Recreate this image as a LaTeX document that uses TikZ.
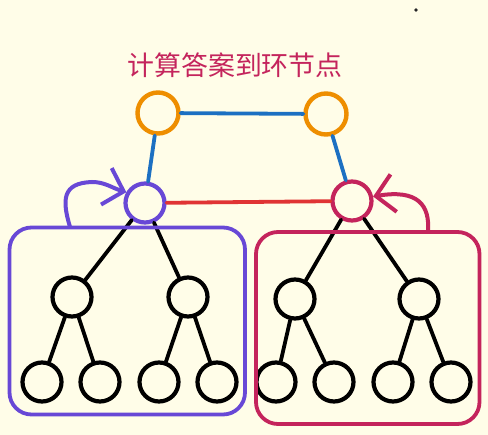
\documentclass[tikz,border=0pt]{standalone}
\usepackage{fontspec}
\newfontfamily\cjk{Noto Sans CJK SC}
\usetikzlibrary{arrows.meta}
\definecolor{bgY}{RGB}{255,253,232}
\definecolor{figO}{RGB}{238,142,0}
\definecolor{figB}{RGB}{28,112,194}
\definecolor{figR}{RGB}{224,52,52}
\definecolor{figP}{RGB}{104,72,214}
\definecolor{figC}{RGB}{196,36,92}

\begin{document}
\begin{tikzpicture}[x=1bp,y=-1bp,line cap=round,
  knot/.style={circle,draw,line width=4.2bp,minimum size=39bp,inner sep=0pt},
  ringnode/.style={knot,draw=figO,line width=4.4bp,minimum size=41bp},
  edge/.style={line width=3.8bp},
  loop/.style={line width=4bp,-{Straight Barb[length=18bp,width=38bp,line width=4bp]}},
  groupbox/.style={line width=3.8bp,rounded corners=22bp}]
% background and page size
\fill[bgY] (0,0) rectangle (488,435);
\useasboundingbox (0,0) rectangle (488,435);
\fill[black!85] (416,10) circle (1.8);
% title
\node[figC,font=\cjk\fontsize{27}{30}\selectfont] (title) at (235,65) {计算答案到环节点};
% ring nodes and the two roots
\node[ringnode] (o1) at (158,113) {};
\node[ringnode] (o2) at (326,114) {};
\node[knot,draw=figP] (pl) at (145,203) {};
\node[knot,draw=figC] (cr) at (352,201) {};
\draw[edge,figB] (o1)--(o2);
\draw[edge,figB] (o1)--(pl);
\draw[edge,figB] (o2)--(cr);
\draw[edge,figR] (pl)--(cr);
% left subtree
\node[knot] (a) at (72,297) {};
\node[knot] (b) at (188,297) {};
\node[knot] (a1) at (42,382) {};
\node[knot] (a2) at (100,382) {};
\node[knot] (b1) at (159,382) {};
\node[knot] (b2) at (217,382) {};
\draw[edge] (pl)--(a); \draw[edge] (pl)--(b);
\draw[edge] (a)--(a1); \draw[edge] (a)--(a2);
\draw[edge] (b)--(b1); \draw[edge] (b)--(b2);
% right subtree
\node[knot] (c) at (295,299) {};
\node[knot] (d) at (419,299) {};
\node[knot] (c1) at (276,382) {};
\node[knot] (c2) at (334,382) {};
\node[knot] (d1) at (393,382) {};
\node[knot] (d2) at (451,382) {};
\draw[edge] (cr)--(c); \draw[edge] (cr)--(d);
\draw[edge] (c)--(c1); \draw[edge] (c)--(c2);
\draw[edge] (d)--(d1); \draw[edge] (d)--(d2);
% the two groups
\draw[groupbox,figP] (9.5,227.5) rectangle (245,414.5);
\draw[groupbox,figC] (256,232) rectangle (479.5,424);
% self loops
\coordinate (ps) at (70,227);
\coordinate (cs) at (428,232);
\draw[loop,figP] (ps) .. controls (62,200) and (62,183) .. (92,182) .. controls (105,182) and (112,188) .. (pl.150);
\draw[loop,figC] (cs) .. controls (430,205) and (418,189) .. (cr.12);
\end{tikzpicture}
\end{document}
